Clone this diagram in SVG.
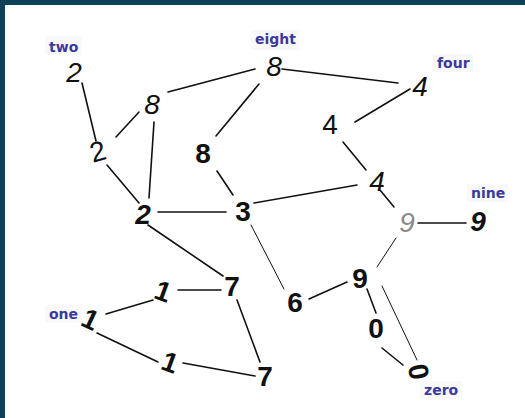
<svg xmlns="http://www.w3.org/2000/svg" width="525" height="418" viewBox="0 0 525 418">
<style>
.lbl{font-family:"DejaVu Sans",Verdana,sans-serif;font-weight:bold;font-size:14px;fill:#3b399f}
.lb{fill:#f9f9fa}
.d{font-family:"Liberation Sans",Arial,sans-serif;font-size:28px;fill:#111;text-anchor:middle}
.t{font-weight:normal}
.b{font-weight:bold}
.g{fill:#8a8a8a}
.e line{stroke:#111;stroke-width:1.6;stroke-linecap:round}
.e line.th{stroke-width:1}
</style>
<rect x="0" y="0" width="525" height="418" fill="#0e4058"/>
<rect x="5" y="5" width="520" height="413" fill="#ffffff"/>
<g id="labels">
<rect class="lb" x="45" y="36" width="37" height="19"/>
<text class="lbl" x="49" y="52">two</text>
<rect class="lb" x="251" y="30" width="48" height="20"/>
<text class="lbl" x="255" y="44">eight</text>
<rect class="lb" x="433" y="54" width="40" height="18"/>
<text class="lbl" x="437" y="68">four</text>
<rect class="lb" x="467" y="184" width="41" height="18"/>
<text class="lbl" x="471" y="198">nine</text>
<rect class="lb" x="45" y="305" width="37" height="18"/>
<text class="lbl" x="49" y="319">one</text>
<rect class="lb" x="420" y="381" width="42" height="18"/>
<text class="lbl" x="424" y="395">zero</text>
</g>
<g id="connectors" class="e">
<line x1="168" y1="92" x2="255" y2="69"/>
<line x1="282" y1="69" x2="398" y2="83"/>
<line x1="259" y1="84" x2="216" y2="136"/>
<line x1="410" y1="89" x2="355" y2="122"/>
<line x1="82" y1="83" x2="96" y2="141"/>
<line x1="139" y1="112" x2="116" y2="137"/>
<line x1="154" y1="122" x2="149" y2="198"/>
<line x1="107" y1="165" x2="139" y2="203"/>
<line x1="158" y1="212" x2="226" y2="212"/>
<line x1="217" y1="171" x2="233" y2="195"/>
<line x1="254" y1="203" x2="357" y2="185"/>
<line x1="343" y1="142" x2="366" y2="170"/>
<line x1="380" y1="190" x2="394" y2="207"/>
<line x1="418" y1="223" x2="466" y2="223"/>
<line class="th" x1="396" y1="238" x2="377" y2="267"/>
<line x1="309" y1="299" x2="347" y2="282"/>
<line x1="367" y1="289" x2="376" y2="313"/>
<line class="th" x1="382" y1="286" x2="417" y2="360"/>
<line x1="382" y1="348" x2="403" y2="365"/>
<line class="th" x1="251" y1="225" x2="284" y2="289"/>
<line x1="148" y1="225" x2="223" y2="276"/>
<line x1="178" y1="290" x2="221" y2="290"/>
<line x1="106" y1="314" x2="153" y2="300"/>
<line x1="97" y1="333" x2="158" y2="362"/>
<line x1="183" y1="363" x2="255" y2="376"/>
<line x1="237" y1="300" x2="260" y2="362"/>
</g>
<g id="n-two-a"><text class="d t" x="74" y="82" font-style="italic">2</text></g>
<g id="n-eight-a"><text class="d t" x="274" y="76" font-style="italic">8</text></g>
<g id="n-four-a"><text class="d t" x="420" y="96" font-style="italic" font-size="26">4</text></g>
<g id="n-eight-b"><text class="d t" x="152" y="114" font-style="italic" font-size="26">8</text></g>
<g id="n-two-b"><text class="d t" x="98" y="161" font-size="24" transform="rotate(-15 98 152)">2</text></g>
<g id="n-eight-c"><text class="d b" x="203" y="163">8</text></g>
<g id="n-four-b"><text class="d t" x="330" y="134">4</text></g>
<g id="n-four-c"><text class="d t" x="377" y="191" font-style="italic">4</text></g>
<g id="n-two-c"><text class="d b" x="143" y="224" font-style="italic">2</text></g>
<g id="n-three"><text class="d b" x="243" y="221">3</text></g>
<g id="n-nine-a"><text class="d t g" x="407" y="232" font-style="italic">9</text></g>
<g id="n-nine-b"><text class="d b" x="478" y="231" font-style="italic" font-size="26">9</text></g>
<g id="n-seven-a"><text class="d b" x="232" y="296" font-size="24">7</text></g>
<g id="n-one-a"><text class="d b" x="163" y="301" transform="rotate(20 163 292)">1</text></g>
<g id="n-one-b"><text class="d b" x="90" y="329" transform="rotate(25 90 320)">1</text></g>
<g id="n-one-c"><text class="d b" x="170" y="372" transform="rotate(20 170 363)">1</text></g>
<g id="n-seven-b"><text class="d b" x="265" y="386">7</text></g>
<g id="n-nine-c"><text class="d b" x="360" y="288">9</text></g>
<g id="n-six"><text class="d b" x="295" y="312">6</text></g>
<g id="n-zero-a"><text class="d b" x="376" y="338">0</text></g>
<g id="n-zero-b"><text class="d b" x="417" y="380" font-size="24" transform="rotate(80 417 372)">0</text></g>
</svg>
